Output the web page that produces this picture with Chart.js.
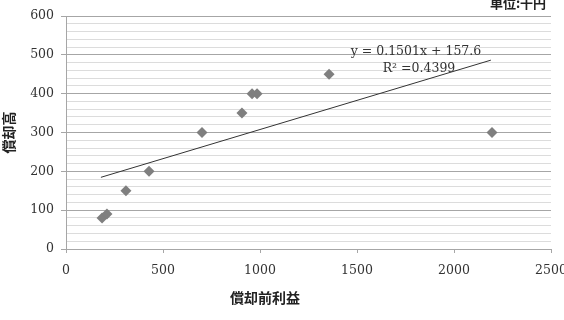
<!DOCTYPE html>
<html>
<head>
<meta charset="utf-8">
<script src="https://cdn.jsdelivr.net/npm/chart.js@4"></script>
<style>
html,body{margin:0;padding:0;background:#fff;}
#wrap{width:564px;height:320px;position:relative;}
canvas{display:block;}
</style>
</head>
<body>
<div id="wrap"><canvas id="c" width="564" height="320"></canvas></div>
<script>
// Data
const profitBeforeDep = [186, 211, 309, 428, 701, 907, 959, 985, 1356, 2196];
const depreciation   = [80, 90, 150, 200, 300, 350, 400, 400, 450, 300];
const trendX = [180, 2190];
const trendY = [184.6, 486.3];
const xTicks = [0, 500, 1000, 1500, 2000, 2500];
const yTicks = [0, 100, 200, 300, 400, 500, 600];
const xTitle = '償却前利益';
const yTitle = '償却高';
const unitLabel = '単位:千円';
const eqLine1 = 'y = 0.1501x + 157.6';
const eqLine2 = 'R² =0.4399';

const serif = '"DejaVu Serif", "Liberation Serif", serif';
const cjk = '"Noto Sans CJK JP", "Noto Sans CJK SC", sans-serif';

const textPlugin = {
  id: 'texts',
  afterDraw(chart) {
    const ctx = chart.ctx;
    ctx.save();
    ctx.fillStyle = '#222';
    ctx.textAlign = 'center';
    ctx.textBaseline = 'middle';
    ctx.font = 'bold 14px ' + cjk;
    ctx.fillText(xTitle, 265, 298);
    ctx.font = 'bold 13px ' + cjk;
    ctx.fillText(unitLabel, 518, 3);
    ctx.fillStyle = '#333';
    ctx.font = '12.5px ' + serif;
    ctx.fillText(eqLine1, 416, 52);
    ctx.fillText(eqLine2, 419, 69);
    ctx.restore();
  }
};

new Chart(document.getElementById('c'), {
  type: 'scatter',
  data: {
    datasets: [
      {
        label: 'data',
        data: profitBeforeDep.map((x, i) => ({x: x, y: depreciation[i]})),
        pointStyle: 'rectRot',
        pointRadius: 5.5,
        backgroundColor: '#7f7f7f',
        borderColor: '#7f7f7f',
        borderWidth: 0,
        order: 1
      },
      {
        type: 'line',
        label: 'trend',
        data: trendX.map((x, i) => ({x: x, y: trendY[i]})),
        borderColor: '#333',
        borderWidth: 1,
        pointRadius: 0,
        fill: false,
        order: 2
      }
    ]
  },
  options: {
    responsive: false,
    animation: false,
    devicePixelRatio: 1,
    layout: {padding: {left: 0, right: 13, top: 16, bottom: 0}},
    plugins: {legend: {display: false}, tooltip: {enabled: false}},
    scales: {
      x: {
        type: 'linear',
        min: 0, max: 2500,
        afterBuildTicks(s) { s.ticks = xTicks.map(v => ({value: v})); },
        afterFit(s) { s.height = 71; s.paddingLeft = 0; s.paddingRight = 0; },
        grid: {drawOnChartArea: false, drawTicks: true, tickLength: 4, color: '#a6a6a6', tickColor: '#a6a6a6'},
        border: {display: true, color: '#a6a6a6', width: 1},
        ticks: {font: {family: serif, size: 12.5}, color: '#333', padding: 10, maxRotation: 0, autoSkip: false,
          callback: v => String(v)}
      },
      y: {
        type: 'linear',
        min: 0, max: 600,
        afterBuildTicks(s) {
          const t = [];
          for (let v = 0; v <= 600; v += 20) t.push({value: v});
          s.ticks = t;
        },
        afterFit(s) { s.width = 66; s.paddingTop = 0; s.paddingBottom = 0; },
        title: {display: true, text: yTitle, font: {family: cjk, size: 14, weight: 'bold'}, color: '#222', padding: 0},
        grid: {
          drawOnChartArea: true, drawTicks: true, tickLength: 5,
          color: c => (c.tick && c.tick.value % 100 === 0) ? '#a6a6a6' : '#dcdcdc',
          tickColor: c => (c.tick && c.tick.value % 100 === 0) ? '#a6a6a6' : 'rgba(0,0,0,0)'
        },
        border: {display: true, color: '#a6a6a6', width: 1},
        ticks: {
          font: {family: serif, size: 12.5}, color: '#333', padding: 7, autoSkip: false,
          callback: v => (v % 100 === 0 && yTicks.includes(v)) ? String(v) : ''
        }
      }
    }
  },
  plugins: [textPlugin]
});
</script>
</body>
</html>
